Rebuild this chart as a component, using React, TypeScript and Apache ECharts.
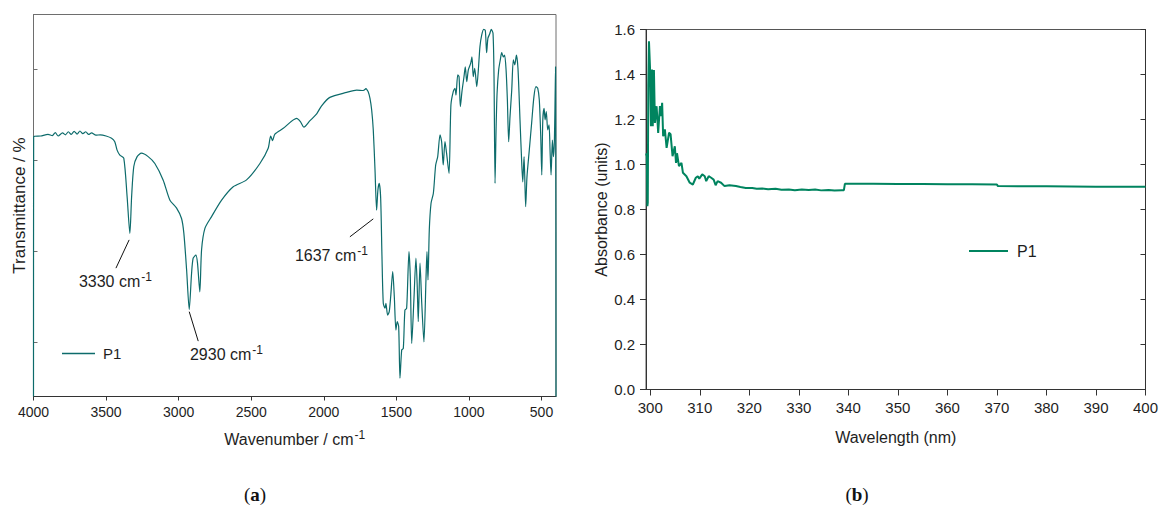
import React, { useEffect, useRef } from 'react';
import * as echarts from 'echarts';

const FONT = '"Liberation Sans", Arial, sans-serif';
const SERIF = '"Liberation Serif", "Times New Roman", serif';

// (a) FT-IR spectrum: wavenumber (cm-1) and transmittance (arbitrary %)
const IR_WAVENUMBER = [
  4000, 3999, 3950, 3900, 3870, 3850, 3830, 3800, 3780, 3760, 3740, 3720, 3700, 3680, 3660, 3640,
  3620, 3600, 3570, 3540, 3500, 3462, 3440, 3424, 3405, 3378, 3355, 3336, 3324, 3309, 3286, 3256,
  3210, 3164, 3107, 3060, 3014, 2980, 2964, 2945, 2927, 2911, 2900, 2881, 2870, 2854, 2842, 2819,
  2773, 2704, 2624, 2532, 2440, 2383, 2366, 2353, 2337, 2279, 2187, 2160, 2137, 2095, 2049, 2015,
  1958, 1842, 1773, 1728, 1709, 1705, 1694, 1682, 1670, 1659, 1647, 1636, 1627, 1618, 1608, 1599,
  1590, 1578, 1572, 1560, 1549, 1539, 1525, 1514, 1503, 1494, 1484, 1475, 1463, 1452, 1441, 1429,
  1413, 1404, 1394, 1379, 1365, 1356, 1349, 1337, 1325, 1310, 1296, 1289, 1282, 1273, 1261, 1245,
  1229, 1215, 1199, 1188, 1177, 1165, 1154, 1137, 1124, 1108, 1096, 1089, 1077, 1068, 1059, 1048,
  1034, 1025, 1015, 1004, 988, 979, 970, 960, 946, 935, 924, 912, 898, 887, 878, 869,
  857, 846, 834, 827, 820, 813, 806, 795, 784, 774, 763, 754, 744, 735, 726, 717,
  705, 694, 684, 673, 662, 648, 636, 629, 620, 609, 600, 584, 568, 552, 538, 526,
  515, 505, 498, 491, 482, 475, 467, 457, 448, 441, 434, 425, 418, 411, 403, 400,
];
const IR_TRANSMITTANCE = [
  0, 68.0, 68.2, 68.6, 68.3, 69.1, 68.2, 69.0, 68.5, 69.3, 68.6, 69.4, 68.7, 69.5, 68.8, 69.3,
  68.6, 69.0, 68.4, 68.5, 68.2, 67.6, 66.7, 64.5, 63.2, 62.4, 52.3, 42.7, 52.3, 60.2, 62.8, 63.7,
  62.8, 61.0, 56.7, 51.4, 49.3, 46.6, 42.7, 33.1, 22.8, 32.2, 36.2, 37.0, 34.9, 27.4, 38.4, 44.0,
  47.1, 51.4, 54.9, 56.7, 61.0, 65.0, 68.2, 67.0, 68.7, 70.2, 72.8, 71.9, 70.5, 72.2, 74.0, 76.1,
  78.3, 79.6, 80.2, 80.1, 80.6, 80.7, 79.8, 78.1, 75.0, 69.8, 59.3, 48.8, 54.1, 55.8, 51.9, 36.6,
  24.4, 23.1, 24.4, 21.3, 22.2, 26.1, 32.7, 26.1, 17.4, 19.6, 18.3, 4.8, 12.2, 12.6, 22.6, 23.1,
  37.9, 31.4, 13.9, 25.3, 36.2, 28.7, 19.6, 34.9, 24.4, 14.3, 30.5, 37.9, 30.5, 43.6, 50.6, 53.2,
  60.6, 62.8, 68.5, 66.7, 60.6, 66.7, 63.7, 58.4, 76.3, 79.8, 80.7, 78.9, 84.2, 83.7, 75.9, 79.8,
  83.7, 86.3, 82.4, 85.5, 87.2, 88.9, 83.7, 85.9, 81.1, 85.5, 91.6, 94.6, 96.1, 95.8, 90.0, 93.8,
  94.9, 96.1, 95.1, 83.7, 55.8, 69.8, 79.4, 85.5, 88.1, 90.0, 88.9, 89.4, 85.5, 77.6, 66.7, 73.2,
  80.2, 88.1, 86.8, 89.4, 85.9, 72.4, 61.0, 56.2, 62.8, 49.7, 57.5, 64.5, 71.5, 78.5, 81.1, 80.7,
  77.6, 68.0, 58.0, 72.4, 75.4, 72.4, 74.6, 69.8, 71.1, 64.5, 58.0, 67.1, 62.8, 67.1, 86.3, 0,
];
const IR_TICKS = [4000, 3500, 3000, 2500, 2000, 1500, 1000, 500];
const IR_Y_TICKS = [14.2, 38.0, 61.8, 85.6];

// peak annotations (data units): leader line start/end and label anchor
const PEAK_LABELS = ['3330', '2930', '1637'];
const PEAK_LINE_FROM = [[3341, 41.0], [2927, 22.2], [1659, 46.5]];
const PEAK_LINE_TO = [[3432, 33.6], [2865, 14.5], [1820, 41.8]];
const PEAK_TEXT_AT = [[3687, 30.0], [2922, 10.9], [2199, 36.8]];

// (b) UV absorbance
const UV_WAVELENGTH = [
  299.14, 299.3, 299.42, 299.5, 299.6, 299.74, 299.94, 300.14, 300.34, 300.5, 300.74, 300.94,
  301.28, 301.6, 301.95, 302.15, 302.4, 302.6, 302.95, 303.3, 303.8, 304.1, 304.5, 304.96,
  305.2, 305.4, 305.8, 306.3, 306.6, 307.3, 307.97, 308.6, 309.2, 309.6, 309.9, 310.5,
  311.0, 311.3, 311.8, 312.3, 312.8, 313.2, 313.6, 314.3, 315.0, 316.0, 317.3, 318.2,
  319.3, 320.6, 321.5, 322.6, 323.8, 325.3, 326.5, 328.0, 329.2, 330.6, 332.0, 333.3,
  334.5, 336.0, 337.2, 338.7, 339.1, 339.3, 345, 350, 355, 360, 365, 370.0,
  370.2, 375, 380, 385, 390, 395, 400,
];
const UV_ABSORBANCE = [
  1.04, 1.05, 0.815, 0.83, 1.35, 1.548, 1.437, 1.17, 1.422, 1.17, 1.42, 1.185,
  1.259, 1.14, 1.26, 1.215, 1.274, 1.126, 1.156, 1.074, 1.141, 1.135, 1.037, 1.081,
  1.007, 1.05, 0.993, 1.007, 0.963, 0.948, 0.919, 0.911, 0.941, 0.948, 0.937, 0.956,
  0.948, 0.926, 0.948, 0.941, 0.933, 0.908, 0.926, 0.919, 0.904, 0.908, 0.904, 0.9,
  0.896, 0.896, 0.892, 0.893, 0.89, 0.892, 0.888, 0.889, 0.886, 0.889, 0.887, 0.889,
  0.885, 0.887, 0.884, 0.886, 0.886, 0.914, 0.914, 0.913, 0.913, 0.912, 0.912, 0.911,
  0.904, 0.903, 0.903, 0.902, 0.901, 0.901, 0.901,
];
const UV_X_TICKS = [300, 310, 320, 330, 340, 350, 360, 370, 380, 390, 400];

const IR_COLOR = '#0d6b6b';
const UV_COLOR = '#00845f';
const TEXT = '#1e1e1e';

function zip(xs: number[], ys: number[]) {
  return xs.map((x, i) => [x, ys[i]]);
}

const supRich = (size: number, raise: number) => ({
  m: { fontSize: size, fontFamily: FONT, color: TEXT, fill: TEXT },
  s: { fontSize: Math.round(size * 0.72), fontFamily: FONT, color: TEXT, fill: TEXT, padding: [0, 0, raise, 1] },
});

export default function App() {
  const ref = useRef<HTMLDivElement>(null);

  useEffect(() => {
    if (!ref.current) return;
    const chart = echarts.init(ref.current, null, { renderer: 'svg' });

    const option: any = {
      animation: false,
      backgroundColor: '#ffffff',
      textStyle: { fontFamily: FONT },
      grid: [
        { left: 33.5, top: 14.5, width: 522.5, height: 382, show: true, borderColor: '#6e6e6e', borderWidth: 1, backgroundColor: 'transparent' },
        { left: 646, top: 29.5, width: 503, height: 360, show: true, borderColor: '#555555', borderWidth: 1, backgroundColor: 'transparent' },
      ],
      xAxis: [
        {
          gridIndex: 0, type: 'value', min: 400, max: 4000, inverse: true,
          axisLine: { show: true, lineStyle: { color: '#333', width: 1 } },
          axisTick: { show: true, inside: false, length: 4, customValues: IR_TICKS, lineStyle: { color: '#333' } },
          axisLabel: { customValues: IR_TICKS, fontSize: 14, color: TEXT, margin: 8, fontFamily: FONT, formatter: (v: number) => String(v) },
          splitLine: { show: false },
          name: '{m|Wavenumber / cm}{s|-1}', nameLocation: 'middle', nameGap: 32,
          nameTextStyle: { rich: supRich(16, 9) },
        },
        {
          gridIndex: 1, type: 'value', min: 299.14, max: 400,
          axisLine: { show: true, lineStyle: { color: '#333', width: 1 } },
          axisTick: { show: true, inside: false, length: 6, customValues: UV_X_TICKS, lineStyle: { color: '#333' } },
          axisLabel: { customValues: UV_X_TICKS, fontSize: 15, color: TEXT, margin: 10, fontFamily: FONT, formatter: (v: number) => String(v) },
          splitLine: { show: false },
          name: 'Wavelength (nm)', nameLocation: 'middle', nameGap: 40,
          nameTextStyle: { fontSize: 16, color: TEXT, fontFamily: FONT },
        },
        {
          gridIndex: 1, type: 'value', min: 299.14, max: 400, position: 'top',
          axisLine: { show: true, lineStyle: { color: '#333', width: 1 } },
          axisTick: { show: true, inside: true, length: 5, customValues: UV_X_TICKS, lineStyle: { color: '#333' } },
          axisLabel: { show: false },
          splitLine: { show: false },
        },
      ],
      yAxis: [
        {
          gridIndex: 0, type: 'value', min: 0, max: 100,
          axisLine: { show: true, lineStyle: { color: '#6e6e6e', width: 1 } },
          axisTick: { show: true, inside: true, length: 4, customValues: IR_Y_TICKS, lineStyle: { color: '#6e6e6e' } },
          axisLabel: { show: false },
          splitLine: { show: false },
          name: 'Transmittance / %', nameLocation: 'middle', nameGap: 6,
          nameTextStyle: { fontSize: 17, color: TEXT, fontFamily: FONT },
        },
        {
          gridIndex: 1, type: 'value', min: 0, max: 1.6, interval: 0.2,
          axisLine: { show: true, lineStyle: { color: '#333', width: 1 } },
          axisTick: { show: true, inside: false, length: 6, lineStyle: { color: '#333' } },
          axisLabel: { fontSize: 15, color: TEXT, margin: 11, fontFamily: FONT, formatter: (v: number) => v.toFixed(1) },
          splitLine: { show: false },
          name: 'Absorbance (units)', nameLocation: 'middle', nameGap: 37,
          nameTextStyle: { fontSize: 16, color: TEXT, fontFamily: FONT },
        },
        {
          gridIndex: 1, type: 'value', min: 0, max: 1.6, interval: 0.2, position: 'right',
          axisLine: { show: true, lineStyle: { color: '#333', width: 1 } },
          axisTick: { show: true, inside: true, length: 5, lineStyle: { color: '#333' } },
          axisLabel: { show: false },
          splitLine: { show: false },
        },
      ],
      legend: [
        {
          data: ['P1-a'], left: 62, top: 346, padding: 0, itemWidth: 33, itemHeight: 1.5, icon: 'rect',
          formatter: () => 'P1', textStyle: { fontSize: 15, color: TEXT, fontFamily: FONT, padding: [0, 0, 0, 3] },
          selectedMode: false,
        },
        {
          data: ['P1-b'], left: 969, top: 243, padding: 0, itemWidth: 39, itemHeight: 2, icon: 'rect',
          formatter: () => 'P1', textStyle: { fontSize: 16, color: TEXT, fontFamily: FONT, padding: [0, 0, 0, 4] },
          selectedMode: false,
        },
      ],
      series: [
        {
          name: 'P1-a', type: 'line', xAxisIndex: 0, yAxisIndex: 0, data: zip(IR_WAVENUMBER, IR_TRANSMITTANCE),
          symbol: 'none', smooth: 0.25, lineStyle: { color: IR_COLOR, width: 1.2 }, itemStyle: { color: IR_COLOR },
          clip: true,
        },
        {
          name: 'P1-b', type: 'line', xAxisIndex: 1, yAxisIndex: 1, data: zip(UV_WAVELENGTH, UV_ABSORBANCE),
          symbol: 'none', lineStyle: { color: UV_COLOR, width: 2 }, itemStyle: { color: UV_COLOR },
          clip: true,
        },
      ],
    };
    chart.setOption(option);

    const graphics: any[] = [];
    PEAK_LABELS.forEach((lab, i) => {
      const p1 = chart.convertToPixel({ xAxisIndex: 0, yAxisIndex: 0 }, PEAK_LINE_FROM[i]) as number[];
      const p2 = chart.convertToPixel({ xAxisIndex: 0, yAxisIndex: 0 }, PEAK_LINE_TO[i]) as number[];
      const pt = chart.convertToPixel({ xAxisIndex: 0, yAxisIndex: 0 }, PEAK_TEXT_AT[i]) as number[];
      graphics.push({
        type: 'line', silent: true,
        shape: { x1: p1[0], y1: p1[1], x2: p2[0], y2: p2[1] },
        style: { stroke: '#111', lineWidth: 1 },
      });
      graphics.push({
        type: 'text', silent: true, x: pt[0], y: pt[1],
        style: {
          text: `{m|${lab} cm}{s|-1}`,
          rich: supRich(16, 9),
          align: 'left', verticalAlign: 'middle',
        },
      });
    });
    const caption = (x: number, letter: string) => ({
      type: 'text', silent: true, x, y: 494,
      style: {
        text: `{p|(}{b|${letter}}{p|)}`, align: 'center', verticalAlign: 'middle',
        rich: {
          p: { fontSize: 19, fontFamily: SERIF, fill: '#111' },
          b: { fontSize: 19, fontFamily: SERIF, fontWeight: 'bold', fill: '#111' },
        },
      },
    });
    graphics.push(caption(255, 'a'));
    graphics.push(caption(857, 'b'));
    chart.setOption({ graphic: graphics });

    return () => chart.dispose();
  }, []);

  return (
    <div
      ref={ref}
      style={{ position: 'absolute', left: 0, top: 0, width: 1161, height: 509, background: '#fff' }}
    />
  );
}
